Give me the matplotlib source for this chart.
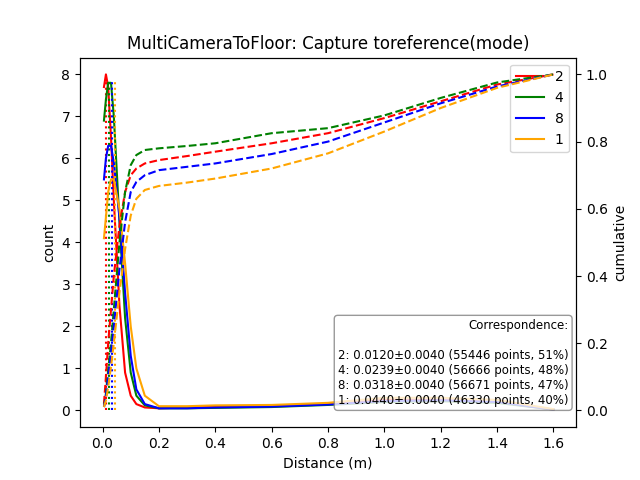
import matplotlib
matplotlib.use("Agg")
import matplotlib.pyplot as plt

labels = ["2", "4", "8", "1"]
colors = ["red", "green", "blue", "orange"]
means = [0.0120, 0.0239, 0.0318, 0.0440]
info = ["2: 0.0120\u00b10.0040 (55446 points, 51%)",
        "4: 0.0239\u00b10.0040 (56666 points, 48%)",
        "8: 0.0318\u00b10.0040 (56671 points, 47%)",
        "1: 0.0440\u00b10.0040 (46330 points, 40%)"]
x = [0.005, 0.012, 0.02, 0.03, 0.04, 0.06, 0.08, 0.1, 0.12, 0.15, 0.2, 0.3, 0.4, 0.6, 0.8, 1.0, 1.2, 1.4, 1.6]
count_2 = [7.7, 8.0, 7.7, 6.5, 5.0, 2.5, 0.9, 0.35, 0.15, 0.07, 0.05, 0.07, 0.08, 0.1, 0.15, 0.25, 0.25, 0.2, 0.02]
count_4 = [6.9, 7.4, 7.8, 7.8, 7.0, 4.5, 2.2, 0.9, 0.35, 0.12, 0.05, 0.05, 0.06, 0.08, 0.13, 0.2, 0.22, 0.18, 0.02]
count_8 = [5.5, 6.0, 6.3, 6.3, 5.9, 4.6, 2.8, 1.3, 0.5, 0.15, 0.05, 0.05, 0.07, 0.09, 0.14, 0.22, 0.24, 0.2, 0.02]
count_1 = [4.1, 4.6, 5.2, 5.5, 5.5, 4.8, 3.5, 2.0, 1.0, 0.35, 0.1, 0.1, 0.12, 0.13, 0.18, 0.3, 0.3, 0.25, 0.03]
cum_2 = [0.02, 0.1, 0.2, 0.3, 0.4, 0.55, 0.65, 0.7, 0.72, 0.735, 0.745, 0.757, 0.77, 0.795, 0.825, 0.87, 0.92, 0.97, 1.0]
cum_4 = [0.01, 0.05, 0.12, 0.2, 0.3, 0.5, 0.65, 0.73, 0.76, 0.775, 0.78, 0.787, 0.795, 0.825, 0.84, 0.878, 0.93, 0.976, 1.0]
cum_8 = [0.01, 0.04, 0.1, 0.17, 0.25, 0.42, 0.56, 0.65, 0.68, 0.70, 0.715, 0.725, 0.735, 0.763, 0.8, 0.857, 0.914, 0.964, 1.0]
cum_1 = [0.01, 0.03, 0.07, 0.13, 0.2, 0.35, 0.48, 0.58, 0.63, 0.656, 0.668, 0.678, 0.69, 0.72, 0.765, 0.83, 0.9, 0.96, 1.0]
counts = [count_2, count_4, count_8, count_1]
cums = [cum_2, cum_4, cum_8, cum_1]

fig, ax = plt.subplots(figsize=(6.4, 4.8), dpi=100)
ax2 = ax.twinx()
for lab, c, m, cnt, cu in zip(labels, colors, means, counts, cums):
    ax.plot(x, cnt, color=c, label=lab)
    ax.vlines(m, 0, 7.9, colors=c, linestyles=":", linewidth=1.5)
    ax2.plot(x, cu, color=c, linestyle="--")
ax.set_ylim(-0.4, 8.4)
ax2.set_ylim(-0.05, 1.05)
ax.set_xlim(-0.08, 1.68)
ax.set_xlabel("Distance (m)")
ax.set_ylabel("count")
ax2.set_ylabel("cumulative")
ax.set_title("MultiCameraToFloor: Capture toreference(mode)")
ax.legend(loc="upper right")
ax.text(0.985, 0.055, "Correspondence:\n\n" + "\n".join(info), transform=ax.transAxes,
        ha="right", va="bottom", fontsize=8.5, multialignment="right",
        bbox=dict(boxstyle="round", facecolor="white", edgecolor="gray", alpha=0.8))
fig.savefig("out.png")
